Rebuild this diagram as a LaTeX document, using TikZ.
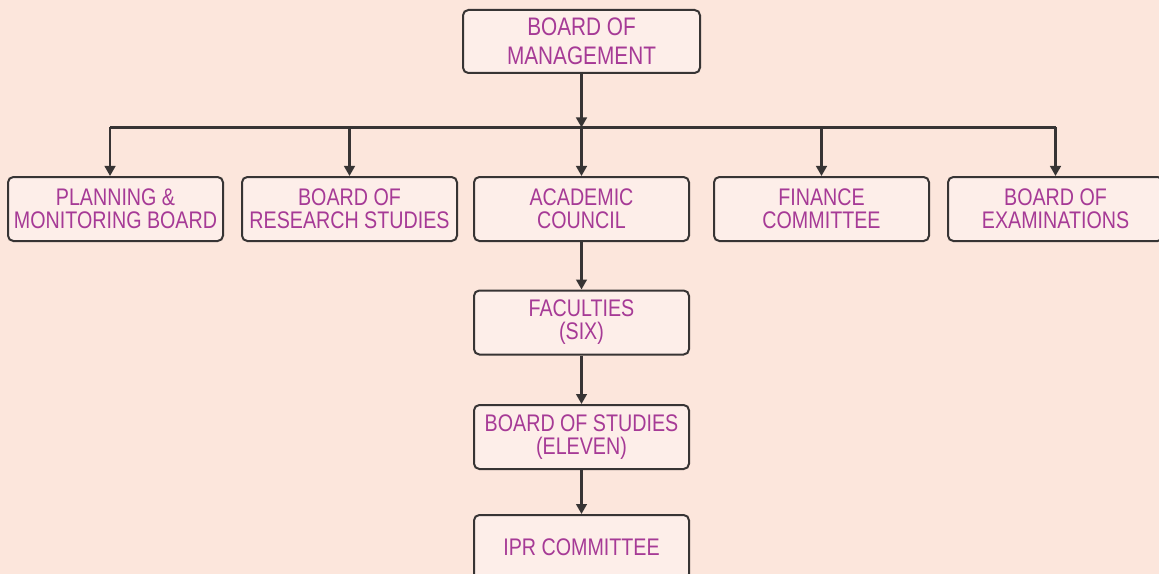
\documentclass[tikz,border=0pt]{standalone}
\usepackage{fontspec}
\setmainfont{Liberation Sans}
\newfontfamily\narrowsans[FakeStretch=0.82]{Liberation Sans}
\usepackage{xcolor}
\usetikzlibrary{positioning}
\usetikzlibrary{arrows.meta}
\usetikzlibrary{calc}

\definecolor{bgpeach}{RGB}{252,230,220}
\definecolor{boxfill}{RGB}{253,238,233}
\definecolor{boxline}{RGB}{55,52,52}
\definecolor{labelpink}{RGB}{166,58,150}

\begin{document}
\begin{tikzpicture}[x=0.75pt, y=-0.75pt,
		unit/.style = {draw = boxline, line width = 1.5pt, fill = boxfill, rounded corners = 4pt,
			minimum width = 161.25pt, minimum height = 48pt, align = center, inner sep = 0pt,
			text = labelpink, font = \narrowsans\fontsize{18}{17.25}\selectfont},
		link/.style = {draw = boxline, line width = 1.7pt},
		>={Triangle[length=7.5pt, width=8pt]}]
		\fill [bgpeach] (0, 0) rectangle (1159, 574);
		\useasboundingbox (0, 0) rectangle (1159, 574);

		\node (bom) [unit, minimum width = 177.75pt, minimum height = 47.25pt,
			font = \narrowsans\fontsize{19}{21.75}\selectfont] at (581.5, 41.5) {BOARD OF\\MANAGEMENT};

		\node (plan) [unit] at (115.5, 209) {PLANNING \&\\MONITORING BOARD};
		\node (research) [unit] at (349.5, 209) {BOARD OF\\RESEARCH STUDIES};
		\node (academic) [unit] at (581.5, 209) {ACADEMIC\\COUNCIL};
		\node (finance) [unit] at (821.5, 209) {FINANCE\\COMMITTEE};
		\node (exams) [unit] at (1055.5, 209) {BOARD OF\\EXAMINATIONS};

		\node (faculties) [unit] at (581.5, 322.5) {FACULTIES\\(SIX)};
		\node (studies) [unit] at (581.5, 437) {BOARD OF STUDIES\\(ELEVEN)};
		\node (ipr) [unit] at (581.5, 547) {IPR COMMITTEE};

		% bus under the board of management
		\coordinate (bus) at (581.5, 127.5);
		\draw [link, ->] (bom.south) -- (bus);
		\draw [link] ([xshift = -4.1pt] plan.north |- bus) -- (exams.north |- bus);
		\draw [link, ->] ([xshift = -4.1pt] plan.north |- bus) -- ([xshift = -4.1pt] plan.north);
		\foreach \n in {research, academic, finance, exams}
			\draw [link, ->] (\n.north |- bus) -- (\n.north);

		% academic chain
		\draw [link, ->] (academic) -- (faculties);
		\draw [link, ->] (faculties) -- (studies);
		\draw [link, ->] (studies) -- (ipr);
\end{tikzpicture}
\end{document}
